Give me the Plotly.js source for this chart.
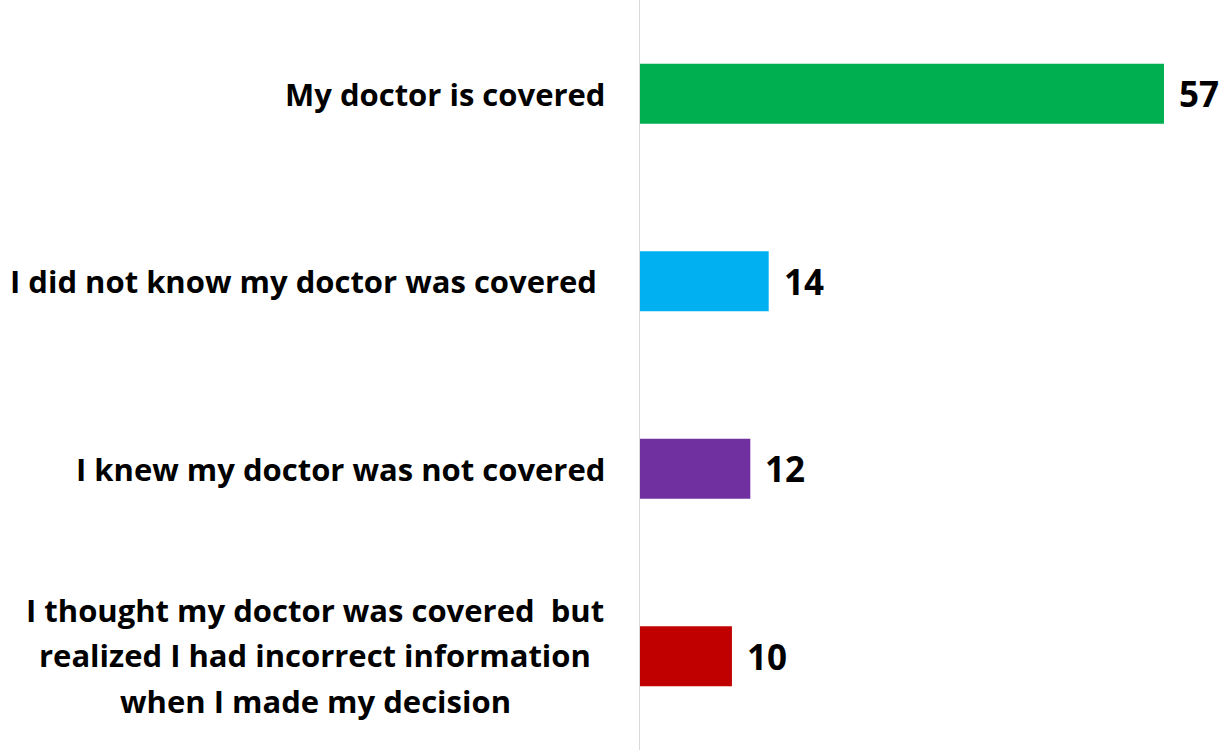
<!DOCTYPE html>
<html>
<head>
<meta charset="utf-8">
<script src="https://cdn.plot.ly/plotly-3.0.1.min.js"></script>
<style>html,body{margin:0;padding:0;background:#fff;}#chart{width:1223px;height:751px;}</style>
</head>
<body>
<div id="chart"></div>
<script>
const categories = [
  "My doctor is covered",
  "I did not know my doctor was covered\u00A0",
  "I knew my doctor was not covered",
  "I thought my doctor was covered\u00A0 but<br>realized I had incorrect information<br>when I made my decision"
];
const values = [57, 14, 12, 10];
const colors = ["#00AF50", "#00B0F0", "#7030A0", "#C00000"];

const FONT = "'Open Sans', Lato, sans-serif";
const LABEL_SIZE = 31;
const LINE_GAP = 45.5;

const trace = {
  type: "bar",
  orientation: "h",
  x: values,
  y: categories,
  width: 0.32,
  marker: {color: colors},
  hoverinfo: "none"
};

const annotations = [];
categories.forEach((c, i) => {
  const lines = c.split("<br>");
  if (lines.length === 1) {
    annotations.push({
      xref: "paper", yref: "y", x: 0, y: c, xanchor: "right", yanchor: "middle",
      xshift: -33, text: c, showarrow: false,
      font: {family: FONT, size: LABEL_SIZE, color: "#000", weight: "bold"}
    });
  } else {
    lines.forEach((ln, k) => {
      annotations.push({
        xref: "paper", yref: "y", x: 0, y: c, xanchor: "center", yanchor: "middle",
        xshift: -325, yshift: ((lines.length - 1) / 2 - k) * LINE_GAP + 1,
        text: ln, showarrow: false,
        font: {family: FONT, size: LABEL_SIZE, color: "#000", weight: "bold"}
      });
    });
  }
  annotations.push({
    xref: "x", yref: "y", x: values[i], y: c, xanchor: "left", yanchor: "middle",
    xshift: 13, text: String(values[i]), showarrow: false,
    font: {family: FONT, size: 35, color: "#000", weight: "bold"}
  });
});

const layout = {
  width: 1223, height: 751,
  margin: {l: 640, r: 0, t: 0, b: 1},
  paper_bgcolor: "#fff", plot_bgcolor: "#fff",
  showlegend: false,
  xaxis: {range: [0, 63.42], showgrid: false, zeroline: false, showticklabels: false, showline: false, fixedrange: true},
  yaxis: {type: "category", autorange: false, range: [3.5, -0.5], showticklabels: false, showgrid: false,
          zeroline: false, showline: true, linecolor: "#D9D9D9", linewidth: 1, ticks: "", fixedrange: true},
  annotations: annotations,
  font: {family: FONT}
};

Plotly.newPlot("chart", [trace], layout, {displayModeBar: false, staticPlot: true});
</script>
</body>
</html>
